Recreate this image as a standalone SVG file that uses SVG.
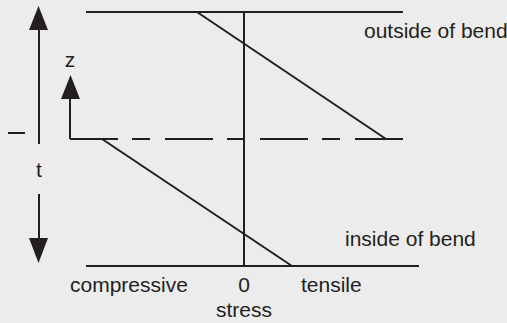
<svg xmlns="http://www.w3.org/2000/svg" width="507" height="323" viewBox="0 0 507 323">
<style>
.ln{stroke:#231f20;stroke-width:2;fill:none}
.ah{fill:#231f20;stroke:none}
text{font-family:"Liberation Sans",Arial,Helvetica,sans-serif;font-size:21px;fill:#231f20}
</style>
<rect width="507" height="323" fill="#ebeceb"/>
<g id="axes">
<line class="ln" x1="86" y1="12" x2="403" y2="12"/>
<line class="ln" x1="86" y1="266" x2="419" y2="266"/>
<line class="ln" x1="244" y1="12" x2="244" y2="266"/>
<line class="ln" x1="70" y1="139" x2="403" y2="139" stroke-dasharray="48 14 18 15"/>
</g>
<g id="stress-lines">
<line class="ln" x1="197" y1="12" x2="386" y2="139"/>
<line class="ln" x1="102" y1="139" x2="292" y2="266"/>
</g>
<g id="z-axis">
<line class="ln" x1="70" y1="139" x2="70" y2="98"/>
<polygon class="ah" points="61,99 80,99 70.5,75"/>
<text x="70" y="67" text-anchor="middle">z</text>
</g>
<g id="t-axis">
<line class="ln" x1="39" y1="144" x2="39" y2="29"/>
<polygon class="ah" points="29,30 48,30 38.5,6"/>
<line class="ln" x1="8" y1="133" x2="25" y2="133"/>
<text x="39" y="177" text-anchor="middle">t</text>
<line class="ln" x1="39" y1="194" x2="39" y2="240"/>
<polygon class="ah" points="29,238 48,238 38.5,263"/>
</g>
<g id="labels">
<text x="364" y="38">outside of bend</text>
<text x="345" y="246">inside of bend</text>
<text x="70" y="292">compressive</text>
<text x="244" y="292" text-anchor="middle">0</text>
<text x="301" y="292">tensile</text>
<text x="244" y="317" text-anchor="middle">stress</text>
</g>
</svg>
